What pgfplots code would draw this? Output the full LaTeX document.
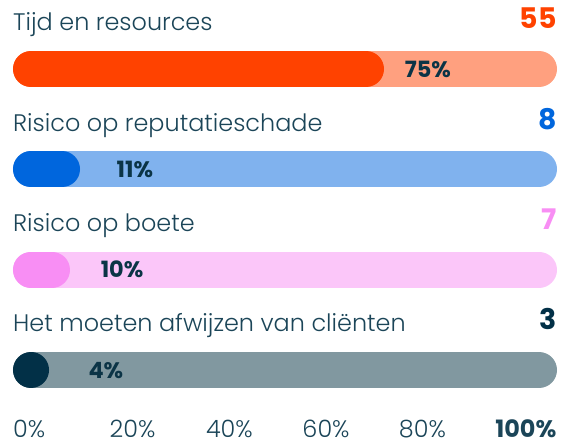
\documentclass[border=0pt]{standalone}
\usepackage{fontspec}
\setmainfont{Poppins}[UprightFont={* Light}, BoldFont={* Bold}]
\usepackage{pgfplots}
\pgfplotsset{compat=1.18}
\definecolor{orfill}{HTML}{FF4200}
\definecolor{ortrack}{HTML}{FFA07F}
\definecolor{blfill}{HTML}{0066DD}
\definecolor{bltrack}{HTML}{80B2EE}
\definecolor{pkfill}{HTML}{F88EF4}
\definecolor{pktrack}{HTML}{FBC6F9}
\definecolor{dkfill}{HTML}{023047}
\definecolor{dktrack}{HTML}{8198A0}
\definecolor{txt}{HTML}{1B4558}
\definecolor{pcttxt}{HTML}{0B3446}

\begin{document}
\begin{tikzpicture}
\begin{axis}[
    scale only axis,
    width=563bp, height=445bp,
    xmin=-5.895, xmax=112.63,
    ymin=-0.7475, ymax=3.688,
    axis line style={draw=none},
    major tick length=0pt,
    ytick=\empty,
    % tick labels are left-aligned and spread evenly across the track
    xtick={0,20.3,40.6,60.9,81.2,101.5},
    xticklabels={0\%,20\%,40\%,60\%,80\%,\textbf{100\%}},
    xticklabel style={anchor=base west, xshift=-15bp, yshift=8bp,
        font=\fontsize{24}{28}\selectfont, text=txt, inner sep=0pt},
    clip=false,
]
% tracks (light) and fills: round caps, 36px thick
\addplot[ortrack, line width=36bp, line cap=round] coordinates {(0.63,3) (107.58,3)};
\addplot[orfill,  line width=36bp, line cap=round] coordinates {(0.63,3) (71.16,3)};
\addplot[bltrack, line width=36bp, line cap=round] coordinates {(0.63,2) (107.58,2)};
\addplot[blfill,  line width=36bp, line cap=round] coordinates {(0.63,2) (7.16,2)};
\addplot[pktrack, line width=36bp, line cap=round] coordinates {(0.63,1) (107.58,1)};
\addplot[pkfill,  line width=36bp, line cap=round] coordinates {(0.63,1) (5.05,1)};
\addplot[dktrack, line width=36bp, line cap=round] coordinates {(0.63,0) (107.58,0)};
\addplot[dkfill,  line width=36bp, line cap=round] coordinates {(0.63,0) (0.64,0)};

% titles
\begin{scope}[every node/.style={anchor=base west, inner sep=0pt, text=txt,
    font=\fontsize{24}{28}\selectfont}]
\node at (axis cs:-3.16,3.379) {Tijd en resources};
\node at (axis cs:-3.16,2.379) {Risico op reputatieschade};
\node at (axis cs:-3.16,1.379) {Risico op boete};
\node at (axis cs:-3.16,0.379) {Het moeten afwijzen van cliënten};
\end{scope}
% counts
\begin{scope}[every node/.style={anchor=base east, inner sep=0pt,
    font=\fontsize{28.5}{32}\selectfont\bfseries}]
\node[text=orfill] at (axis cs:111.37,3.399) {55};
\node[text=blfill] at (axis cs:111.37,2.399) {8};
\node[text=pkfill] at (axis cs:111.37,1.399) {7};
\node[text=dkfill] at (axis cs:111.37,0.399) {3};
\end{scope}
% percentages
\begin{scope}[every node/.style={anchor=base, inner sep=0pt, text=pcttxt,
    font=\fontsize{22.5}{26}\selectfont\bfseries}]
\node at (axis cs:84.2,2.92) {75\%};
\node at (axis cs:22.5,1.92) {11\%};
\node at (axis cs:19.8,0.92) {10\%};
\node at (axis cs:16.4,-0.08) {4\%};
\end{scope}
\end{axis}
\pgfresetboundingbox
\path (0,0) rectangle (563bp,445bp);
\end{tikzpicture}
\end{document}
